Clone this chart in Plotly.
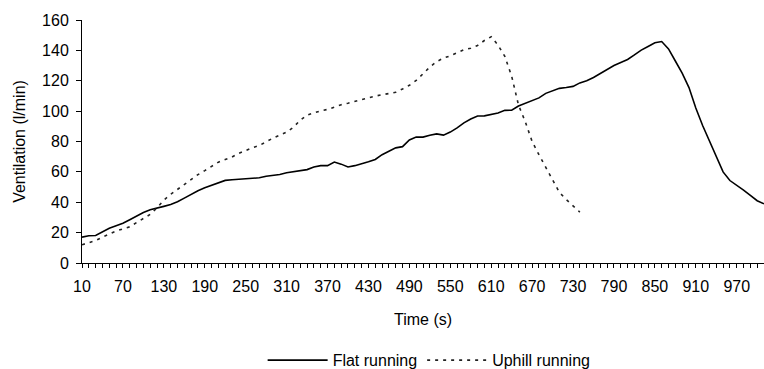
import plotly.graph_objects as go

# ---- data ----
flat_time = list(range(10, 1011, 10))
flat_vent = [
    17.0, 17.9, 18.1, 20.4, 22.9, 24.5, 26.2, 28.5, 31.0, 33.2,      # 10-100
    35.0, 36.4, 37.3, 38.5, 40.3, 42.7, 45.3, 47.6, 49.5, 51.1,      # 110-200
    52.8, 54.4, 54.8, 55.2, 55.7, 55.7, 56.1, 57.1, 57.7, 58.3,      # 210-300
    59.4, 60.2, 60.7, 61.5, 63.2, 64.1, 64.1, 66.5, 65.1, 63.2,      # 310-400
    64.1, 65.2, 66.6, 68.2, 71.3, 73.6, 75.8, 76.6, 81.0, 82.9,      # 410-500
    82.9, 84.1, 85.0, 84.2, 86.2, 89.0, 92.3, 94.8, 96.8, 96.9,      # 510-600
    97.9, 98.8, 100.5, 100.6, 103.4, 105.1, 106.6, 108.7, 111.7, 113.6,  # 610-700
    115.0, 115.5, 116.3, 118.6, 120.0, 122.1, 124.6, 127.6, 130.0, 132.0,  # 710-800
    134.0, 137.0, 140.2, 142.6, 145.0, 145.8, 141.0, 133.0, 125.0, 115.5,  # 810-900
    102.0, 90.5, 80.5, 70.0, 60.0, 54.3, 51.3, 48.0, 44.5, 41.0,     # 910-1000
    39.0,                                                            # 1010
]

uphill_time = list(range(10, 741, 10))
uphill_vent = [
    12.0, 13.4, 14.8, 17.0, 19.1, 21.0, 22.5, 23.8, 26.6, 29.1,      # 10-100
    32.0, 36.3, 41.4, 45.2, 48.4, 51.5, 55.1, 58.2, 60.8, 63.8,      # 110-200
    66.4, 68.1, 69.8, 72.2, 74.2, 75.9, 77.4, 79.9, 82.2, 84.2,      # 210-300
    86.2, 89.4, 94.0, 97.4, 98.9, 100.2, 101.1, 102.9, 104.2, 105.2,  # 310-400
    106.5, 107.8, 108.9, 109.9, 110.8, 111.7, 112.4, 114.6, 117.0, 120.2,  # 410-500
    124.5, 129.0, 132.6, 134.9, 136.4, 138.4, 140.4, 141.4, 143.2, 146.5,  # 510-600
    149.0, 143.5, 136.0, 123.0, 104.0, 93.0, 80.0, 71.3, 62.8, 55.0,  # 610-700
    46.5, 41.8, 37.8, 33.5,                                          # 710-740
]

# one tick per 10 s category, a label on every sixth one (10, 70, ..., 970)
x_tick_vals = flat_time
x_tick_text = [str(v) if (v - 10) % 60 == 0 and v <= 970 else "" for v in x_tick_vals]
y_tick_vals = list(range(0, 161, 20))

FONT = "Liberation Sans, Arial, sans-serif"

fig = go.Figure()
fig.add_trace(go.Scatter(
    x=flat_time, y=flat_vent, mode="lines", name="Flat running",
    line=dict(color="#000000", width=1.6),
))
fig.add_trace(go.Scatter(
    x=uphill_time, y=uphill_vent, mode="lines", name="Uphill running",
    line=dict(color="#222222", width=1.6, dash="3px,5px"),
))

fig.update_layout(
    width=764, height=369,
    margin=dict(l=82, r=0, t=20, b=106, pad=0, autoexpand=False),
    paper_bgcolor="white", plot_bgcolor="white",
    font=dict(family=FONT, size=16, color="#000000"),
    showlegend=True,
    legend=dict(
        orientation="h", x=0.509, xanchor="center", y=-0.40, yanchor="middle",
        font=dict(size=16), itemwidth=60, bgcolor="rgba(0,0,0,0)",
        traceorder="normal",
    ),
)

fig.update_xaxes(
    range=[10, 1010], showgrid=False, zeroline=False,
    showline=True, linecolor="#000000", linewidth=1,
    tickmode="array", tickvals=x_tick_vals, ticktext=x_tick_text,
    ticks="outside", ticklen=4, tickcolor="#000000", tickwidth=1,
    ticklabelstandoff=5,
    tickfont=dict(size=16),
    title=dict(text="Time (s)", font=dict(size=16), standoff=19),
)
fig.update_yaxes(
    range=[0, 160], showgrid=False, zeroline=False,
    showline=True, linecolor="#000000", linewidth=1,
    tickmode="array", tickvals=y_tick_vals,
    ticks="outside", ticklen=5, tickcolor="#000000", tickwidth=1,
    ticklabelstandoff=4,
    tickfont=dict(size=16),
    title=dict(text="Ventilation (l/min)", font=dict(size=16), standoff=12),
)

fig.write_html("out.html")
